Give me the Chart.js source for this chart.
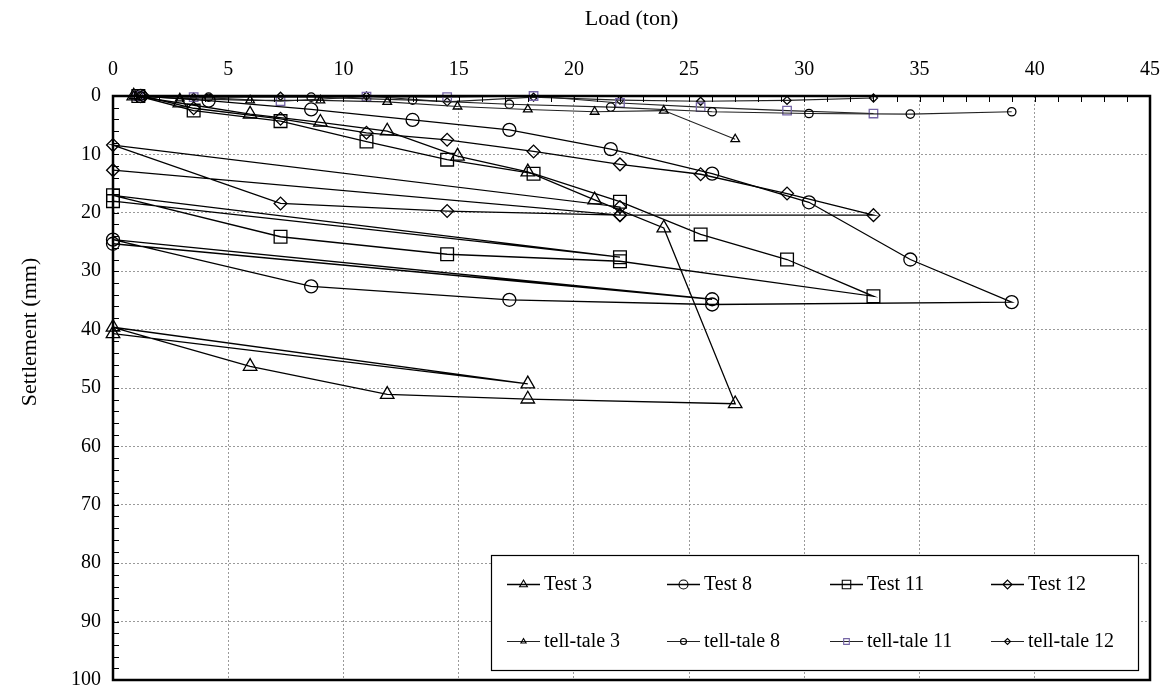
<!DOCTYPE html>
<html lang="en">
<head>
<meta charset="UTF-8">
<title>Load - Settlement</title>
<script src="https://cdn.jsdelivr.net/npm/chart.js"></script>
<style>
body { margin: 0; background: #fff; }
.wrap { position: relative; width: 1172px; height: 695px; }
</style>
</head>
<body>
<div class="wrap"><canvas id="chart" width="1172" height="695"></canvas></div>
<script>
// load (ton) and settlement (mm)
const test3Load   = [0.9, 2.9, 5.95, 9.0, 11.9, 14.95, 18.0, 20.9, 23.9, 27.0, 18.0, 11.9, 5.95, 0, 18.0, 0];
const test3Settle = [0, 1.2, 3.1, 4.5, 6.0, 10.3, 13.0, 17.8, 22.6, 52.7, 51.9, 51.1, 46.3, 39.6, 49.3, 40.7];

const test8Load   = [1.2, 4.15, 8.6, 13.0, 17.2, 21.6, 26.0, 30.2, 34.6, 39.0, 26.0, 17.2, 8.6, 0, 26.0, 0];
const test8Settle = [0, 0.8, 2.3, 4.1, 5.8, 9.1, 13.3, 18.2, 28.0, 35.3, 35.7, 34.9, 32.6, 24.6, 34.8, 25.3];

const test11Load   = [1.1, 3.5, 7.27, 11.0, 14.5, 18.25, 22.0, 25.5, 29.25, 33.0, 22.0, 14.5, 7.27, 0, 22.0, 0];
const test11Settle = [0, 2.5, 4.3, 7.8, 10.9, 13.3, 18.1, 23.7, 28.0, 34.3, 28.3, 27.1, 24.1, 17.0, 27.6, 18.0];

const test12Load   = [1.3, 3.5, 7.27, 11.0, 14.5, 18.25, 22.0, 25.5, 29.25, 33.0, 22.0, 14.5, 7.27, 0, 22.0, 22.0, 0];
const test12Settle = [0, 2.1, 3.9, 6.3, 7.5, 9.5, 11.7, 13.4, 16.7, 20.4, 20.4, 19.7, 18.4, 8.4, 19.0, 20.4, 12.7];

const tt3Load   = [0.9, 2.9, 5.95, 9.0, 11.9, 14.95, 18.0, 20.9, 23.9, 27.0];
const tt3Settle = [0, 0.4, 0.75, 0.75, 1.0, 1.8, 2.3, 2.7, 2.5, 7.4];

const tt8Load   = [1.2, 4.15, 8.6, 13.0, 17.2, 21.6, 26.0, 30.2, 34.6, 39.0];
const tt8Settle = [0, 0.2, 0.2, 0.7, 1.4, 1.9, 2.7, 3.0, 3.1, 2.7];

const tt11Load   = [1.1, 3.5, 7.27, 11.0, 14.5, 18.25, 22.0, 25.5, 29.25, 33.0];
const tt11Settle = [0, 0.2, 0.9, 0.1, 0.2, 0.0, 1.2, 1.9, 2.5, 3.0];

const tt12Load   = [1.3, 3.5, 7.27, 11.0, 14.5, 18.25, 22.0, 25.5, 29.25, 33.0];
const tt12Settle = [0, 0.2, 0.05, 0.0, 1.0, 0.2, 0.7, 0.9, 0.75, 0.35];

const xTicks = [0, 5, 10, 15, 20, 25, 30, 35, 40, 45];
const yTicks = [0, 10, 20, 30, 40, 50, 60, 70, 80, 90, 100];

const serif = "'Liberation Serif', 'Times New Roman', serif";

function pts(xs, ys) {
    return xs.map((x, i) => ({ x: x, y: ys[i] }));
}

function series(label, xs, ys, style, r, color, lineColor, lw, legendR) {
    return {
        label: label,
        data: pts(xs, ys),
        showLine: true,
        tension: 0,
        borderColor: lineColor,
        borderWidth: lw,
        pointStyle: style,
        pointRadius: r,
        pointBorderColor: color,
        pointBackgroundColor: 'rgba(0,0,0,0)',
        pointBorderWidth: 1.3,
        legendR: legendR,
        clip: false
    };
}

const datasets = [
    series('Test 3', test3Load, test3Settle, 'triangle', 7.8, '#000', '#000', 1.3, 4.5),
    series('Test 8', test8Load, test8Settle, 'circle', 6.5, '#000', '#000', 1.3, 4.5),
    series('Test 11', test11Load, test11Settle, 'rect', 9, '#000', '#000', 1.3, 6),
    series('Test 12', test12Load, test12Settle, 'rectRot', 6.4, '#000', '#000', 1.3, 4.5),
    series('tell-tale 3', tt3Load, tt3Settle, 'triangle', 5, '#000', '#222', 1.1, 3),
    series('tell-tale 8', tt8Load, tt8Settle, 'circle', 4.2, '#000', '#222', 1.1, 3),
    series('tell-tale 11', tt11Load, tt11Settle, 'rect', 6, '#7565a5', '#222', 1.1, 4),
    series('tell-tale 12', tt12Load, tt12Settle, 'rectRot', 4, '#000', '#222', 1.1, 3)
];

// frame, inward minor ticks, y title and the boxed legend
const extras = {
    id: 'extras',
    afterDraw(chart) {
        const ctx = chart.ctx;
        const a = chart.chartArea;
        const xs = chart.scales.x, ys = chart.scales.y;
        ctx.save();
        ctx.strokeStyle = '#000';
        ctx.lineWidth = 1;
        ctx.beginPath();
        for (let v = 1; v < 45; v++) {
            const px = Math.round(xs.getPixelForValue(v)) + 0.5;
            ctx.moveTo(px, a.top);
            ctx.lineTo(px, a.top + 6);
        }
        for (let v = 2; v < 100; v += 2) {
            const py = Math.round(ys.getPixelForValue(v)) + 0.5;
            ctx.moveTo(a.left, py);
            ctx.lineTo(a.left + 6, py);
        }
        ctx.stroke();

        ctx.lineWidth = 2.5;
        ctx.strokeRect(a.left, a.top, a.right - a.left, a.bottom - a.top);

        // y title
        ctx.save();
        ctx.translate(30, 332);
        ctx.rotate(-Math.PI / 2);
        ctx.font = '22px ' + serif;
        ctx.fillStyle = '#000';
        ctx.textAlign = 'center';
        ctx.textBaseline = 'middle';
        ctx.fillText('Settlement (mm)', 0, 0);
        ctx.restore();

        // legend
        const bx = 491, by = 555, bw = 647, bh = 115;
        ctx.fillStyle = '#fff';
        ctx.fillRect(bx, by, bw, bh);
        ctx.lineWidth = 1.2;
        ctx.strokeStyle = '#000';
        ctx.strokeRect(bx + 0.5, by + 0.5, bw, bh);
        const cols = [507, 667, 830, 991];
        const rows = [584, 641];
        ctx.font = '20px ' + serif;
        ctx.textBaseline = 'middle';
        ctx.textAlign = 'left';
        chart.data.datasets.forEach((ds, i) => {
            const sx = cols[i % 4], sy = rows[Math.floor(i / 4)];
            ctx.strokeStyle = ds.borderColor;
            ctx.lineWidth = ds.borderWidth;
            ctx.beginPath();
            ctx.moveTo(sx, sy + 0.5);
            ctx.lineTo(sx + 33, sy + 0.5);
            ctx.stroke();
            ctx.strokeStyle = ds.pointBorderColor;
            ctx.fillStyle = 'rgba(0,0,0,0)';
            ctx.lineWidth = 1.1;
            Chart.helpers.drawPoint(ctx, { pointStyle: ds.pointStyle, radius: ds.legendR, rotation: 0, borderWidth: 1.1 }, sx + 16.5, sy + 0.5);
            ctx.fillStyle = '#000';
            ctx.fillText(ds.label, sx + 37, sy + 1);
        });
        ctx.restore();
    }
};

new Chart(document.getElementById('chart').getContext('2d'), {
    type: 'scatter',
    data: { datasets: datasets },
    options: {
        responsive: false,
        animation: false,
        layout: { padding: { left: 0, right: 22, top: 0, bottom: 15 } },
        plugins: { legend: { display: false }, tooltip: { enabled: false } },
        scales: {
            x: {
                type: 'linear',
                position: 'top',
                min: 0,
                max: 45,
                afterBuildTicks: s => { s.ticks = xTicks.map(v => ({ value: v })); },
                afterFit: s => { s.height = 96; s.paddingLeft = 0; s.paddingRight = 0; },
                ticks: { font: { family: serif, size: 20 }, color: '#000', padding: 14, maxRotation: 0 },
                grid: { color: '#9a9a9a', lineWidth: 1, drawTicks: false },
                border: { display: false, dash: [2, 2] },
                title: { display: true, text: 'Load (ton)', font: { family: serif, size: 22 }, color: '#000', padding: { top: 6, bottom: 0 } }
            },
            y: {
                type: 'linear',
                reverse: true,
                min: 0,
                max: 100,
                afterBuildTicks: s => { s.ticks = yTicks.map(v => ({ value: v })); },
                afterFit: s => { s.width = 113; s.paddingTop = 0; s.paddingBottom = 0; },
                ticks: { font: { family: serif, size: 20 }, color: '#000', padding: 12 },
                grid: { color: '#9a9a9a', lineWidth: 1, drawTicks: false },
                border: { display: false, dash: [2, 2] }
            }
        }
    },
    plugins: [extras]
});
</script>
</body>
</html>
